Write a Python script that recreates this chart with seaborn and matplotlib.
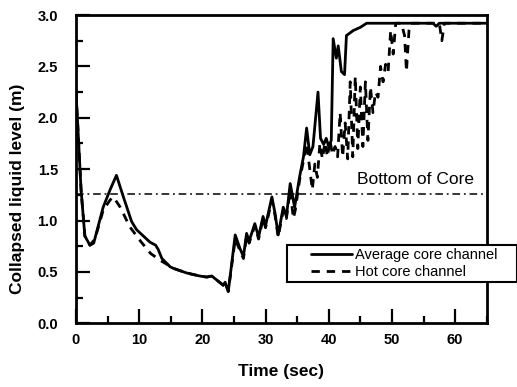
import matplotlib
matplotlib.use("Agg")
import matplotlib.pyplot as plt
import seaborn as sns
from matplotlib.lines import Line2D
from matplotlib.legend_handler import HandlerLine2D
from matplotlib.ticker import MultipleLocator, FormatStrFormatter

# Average core channel collapsed liquid level (m) vs time (s)
avg_time = [0.0, 0.3, 0.8, 1.4, 2.2, 2.8, 4.3, 5.4, 6.4, 7.5, 8.8, 9.6, 11.7, 12.6,
            13.0, 13.6, 14.9, 15.4, 17.5, 19.6, 20.7, 21.5, 22.3, 23.3, 23.6, 24.1,
            25.2, 26.0, 26.5, 27.0, 27.4, 28.3, 28.9, 29.6, 30.0, 31.0, 31.5, 32.0,
            32.8, 33.3, 33.9, 34.6, 35.4, 36.0, 36.5, 37.0, 37.5, 38.3, 38.7, 39.2,
            39.6, 40.0, 40.4, 40.7, 41.2, 41.5, 42.0, 42.5, 42.8, 43.9, 45.0, 46.0,
            56.5, 57.0, 57.5, 65.0]
avg_level = [2.25, 1.90, 1.30, 0.85, 0.76, 0.78, 1.13, 1.30, 1.44, 1.23, 0.99, 0.91,
             0.79, 0.76, 0.72, 0.63, 0.55, 0.535, 0.49, 0.46, 0.45, 0.46, 0.42, 0.37,
             0.40, 0.31, 0.86, 0.72, 0.65, 0.875, 0.80, 0.97, 0.84, 1.04, 0.95, 1.23,
             1.07, 0.86, 1.13, 1.04, 1.36, 1.13, 1.43, 1.62, 1.90, 1.64, 1.72, 2.25,
             1.80, 1.74, 1.80, 1.72, 1.78, 2.77, 2.58, 2.70, 2.45, 2.42, 2.80, 2.85,
             2.88, 2.92, 2.92, 2.89, 2.92, 2.92]

# Hot core channel collapsed liquid level (m) vs time (s)
hot_time = [0.0, 0.3, 0.8, 1.4, 2.2, 3.0, 4.3, 5.4, 5.9, 7.0, 8.5, 10.2, 11.8, 13.4,
            14.5, 15.4, 17.5, 19.6, 20.7, 21.5, 22.3, 23.3, 23.6, 24.1, 25.2, 26.0,
            26.5, 27.0, 27.4, 28.3, 28.9, 29.6, 30.0, 31.0, 31.5, 32.0, 32.8, 33.3,
            33.9, 34.4, 34.7, 35.4, 36.0, 36.5, 37.0, 37.4, 37.8, 38.2, 38.6, 39.0,
            39.4, 39.8, 40.2, 40.6, 41.0, 41.4, 41.8, 42.2, 42.6, 43.0, 43.4, 43.8,
            44.2, 44.6, 45.0, 45.4, 45.8, 46.2, 46.6, 47.0, 47.4, 47.8, 48.2, 48.6,
            49.0, 49.4, 49.8, 50.2, 50.6, 51.5, 52.0, 52.3, 52.7, 53.0, 57.5, 57.9,
            58.3, 65.0]
hot_level = [2.25, 1.90, 1.30, 0.85, 0.76, 0.82, 1.10, 1.20, 1.23, 1.13, 0.94, 0.80,
             0.68, 0.61, 0.57, 0.535, 0.49, 0.46, 0.45, 0.46, 0.42, 0.37, 0.40, 0.31,
             0.82, 0.70, 0.63, 0.85, 0.78, 0.95, 0.82, 1.02, 0.93, 1.20, 1.05, 0.84,
             1.10, 1.02, 1.30, 1.02, 1.10, 1.40, 1.58, 1.75, 1.50, 1.30, 1.55, 1.42,
             1.75, 1.60, 1.76, 1.62, 1.78, 1.64, 1.72, 1.62, 2.05, 1.62, 1.95, 1.60,
             2.35, 1.62, 2.40, 1.70, 2.30, 1.72, 2.35, 1.78, 2.30, 2.05, 2.25, 2.20,
             2.50, 2.35, 2.52, 2.45, 2.85, 2.62, 2.92, 2.92, 2.80, 2.45, 2.85, 2.92,
             2.92, 2.75, 2.92, 2.92]

core_bottom = 1.26
series_labels = ["Average core channel", "Hot core channel"]

sns.set_theme(style="white")
plt.rcParams["font.family"] = ["Liberation Sans", "DejaVu Sans"]
plt.rcParams["text.color"] = "black"
plt.rcParams["axes.labelcolor"] = "black"
plt.rcParams["xtick.color"] = "black"
plt.rcParams["ytick.color"] = "black"

fig = plt.figure(figsize=(5.17, 3.87), dpi=100)
ax = fig.add_axes([0.147, 0.1646, 0.7944, 0.7966])

sns.lineplot(x=avg_time, y=avg_level, ax=ax, color="black", lw=2.0,
             sort=False, estimator=None, label=series_labels[0])
sns.lineplot(x=hot_time, y=hot_level, ax=ax, color="black", lw=2.0,
             sort=False, estimator=None, label=series_labels[1],
             linestyle=(0, (3, 2.5)))

ax.axhline(core_bottom, color="black", lw=1.1, linestyle=(0, (5, 2.5, 1.2, 2.5)))
ax.text(44.4, core_bottom + 0.07, "Bottom of Core", fontsize=12.5,
        ha="left", va="bottom")

ax.set_xlim(0, 65)
ax.set_ylim(0, 3.0)
ax.xaxis.set_major_locator(MultipleLocator(10))
ax.xaxis.set_minor_locator(MultipleLocator(5))
ax.yaxis.set_major_locator(MultipleLocator(0.5))
ax.yaxis.set_minor_locator(MultipleLocator(0.25))
ax.yaxis.set_major_formatter(FormatStrFormatter("%.1f"))

ax.tick_params(which="both", direction="in", top=False, right=False,
               bottom=True, left=True, width=1.6, color="black")
ax.tick_params(which="major", length=10)
ax.tick_params(which="minor", length=5)
ax.tick_params(axis="x", which="major", pad=7, labelsize=10.5)
ax.tick_params(axis="y", which="major", pad=13, labelsize=10.5)
for lbl in ax.get_xticklabels() + ax.get_yticklabels():
    lbl.set_fontweight("bold")

for spine in ax.spines.values():
    spine.set_linewidth(2.0)
    spine.set_color("black")

ax.set_xlabel("Time (sec)", fontsize=12.5, fontweight="bold")
ax.set_ylabel("Collapsed liquid level (m)", fontsize=12.5, fontweight="bold")
ax.xaxis.set_label_coords(0.5, -0.132)
ax.yaxis.set_label_coords(-0.124, 0.436)

handles, labels = ax.get_legend_handles_labels()
leg = ax.legend(handles, labels, loc="upper left",
                bbox_to_anchor=(286.7 / 517, 1 - 288.3 / 387, 230 / 517, 43.3 / 387),
                bbox_transform=fig.transFigure, mode="expand", borderaxespad=0,
                fontsize=10.5, frameon=True, fancybox=False, shadow=False,
                borderpad=0.2, labelspacing=0.22, handlelength=4.26,
                handletextpad=0.25, framealpha=1,
                handler_map={Line2D: HandlerLine2D(xpad=1.5)})
leg.get_frame().set_edgecolor("black")
leg.get_frame().set_linewidth(1.5)

fig.savefig("out.png", dpi=100, facecolor="white")
